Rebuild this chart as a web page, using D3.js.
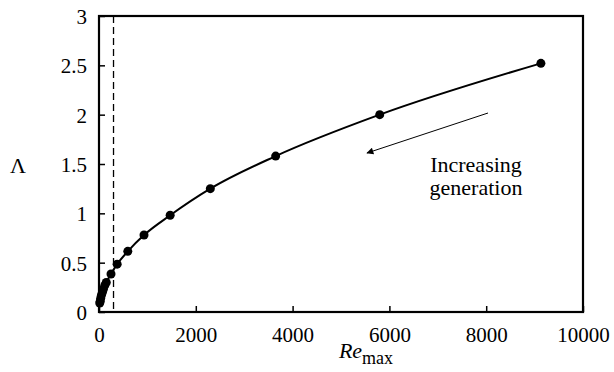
<!DOCTYPE html>
<html>
<head>
<meta charset="utf-8">
<script src="https://cdn.jsdelivr.net/npm/d3@7"></script>
<style>
  body { margin: 0; background: #fff; }
</style>
</head>
<body>
<svg width="614" height="372"></svg>
<script>
// Re_max and Lambda per generation
var reMax = [15, 25, 35, 50, 70, 90, 120, 150, 248, 375, 595, 930, 1470, 2300, 3650, 5800, 9130];
var lambda = [0.09, 0.11, 0.14, 0.17, 0.2, 0.23, 0.27, 0.3, 0.385, 0.485, 0.615, 0.78, 0.98, 1.25, 1.58, 2.0, 2.52];
var xTicks = [0, 2000, 4000, 6000, 8000, 10000];
var yTicks = [0, 0.5, 1, 1.5, 2, 2.5, 3];
var dashedRe = 300;
var noteLines = ["Increasing", "generation"];

var serif = "'Liberation Serif', 'DejaVu Serif', serif";

var svg = d3.select("svg"),
    margin = {left: 99, right: 31, top: 16, bottom: 60},
    width = +svg.attr("width") - margin.left - margin.right,
    height = +svg.attr("height") - margin.top - margin.bottom,
    g = svg.append("g").attr("transform", "translate(" + margin.left + "," + margin.top + ")");

var x = d3.scaleLinear().domain([0, 10000]).range([0, width]);
var y = d3.scaleLinear().domain([0, 3]).range([height, 0]);

// axes: ticks point into the plot
var xAxis = g.append("g")
    .attr("transform", "translate(0," + height + ")")
    .call(d3.axisBottom(x).tickValues(xTicks).tickSize(-6).tickPadding(12).tickFormat(d3.format("d")));
var yAxis = g.append("g")
    .call(d3.axisLeft(y).tickValues(yTicks).tickSize(-6).tickPadding(12).tickFormat(function(d) { return d; }));

[xAxis, yAxis].forEach(function(a) {
  a.attr("font-family", serif).attr("font-size", 21);
  a.select(".domain").remove();
  a.selectAll("line").attr("stroke", "#000").attr("stroke-width", 1.5);
  a.selectAll("text").attr("fill", "#000").attr("font-family", serif);
});
xAxis.selectAll("text").attr("dy", "0.85em");
yAxis.selectAll("text").attr("dy", "0.35em");

// frame
g.append("rect")
    .attr("width", width).attr("height", height)
    .attr("fill", "none").attr("stroke", "#000").attr("stroke-width", 2.2);

// dashed reference line
g.append("line")
    .attr("x1", x(dashedRe)).attr("x2", x(dashedRe))
    .attr("y1", 0).attr("y2", height)
    .attr("stroke", "#000").attr("stroke-width", 1.3)
    .attr("stroke-dasharray", "7,4");

var pts = reMax.map(function(d, i) { return [d, lambda[i]]; });

var line = d3.line()
    .x(function(d) { return x(d[0]); })
    .y(function(d) { return y(d[1]); })
    .curve(d3.curveMonotoneX);

g.append("path").datum(pts)
    .attr("d", line)
    .attr("fill", "none").attr("stroke", "#000").attr("stroke-width", 2);

g.selectAll("circle").data(pts)
  .enter().append("circle")
    .attr("cx", function(d) { return x(d[0]); })
    .attr("cy", function(d) { return y(d[1]); })
    .attr("r", 4.5)
    .attr("fill", "#000");

// arrow annotation
svg.append("defs").append("marker")
    .attr("id", "head")
    .attr("viewBox", "0 0 10 10")
    .attr("refX", 9).attr("refY", 5)
    .attr("markerWidth", 10).attr("markerHeight", 7)
    .attr("markerUnits", "userSpaceOnUse")
    .attr("orient", "auto")
  .append("path").attr("d", "M0,0L10,5L0,10z").attr("fill", "#000");

svg.append("line")
    .attr("x1", 488).attr("y1", 113)
    .attr("x2", 367).attr("y2", 153)
    .attr("stroke", "#000").attr("stroke-width", 1)
    .attr("marker-end", "url(#head)");

svg.append("g").selectAll("text").data(noteLines)
  .enter().append("text")
    .attr("x", 476)
    .attr("y", function(d, i) { return 172 + i * 23; })
    .attr("text-anchor", "middle")
    .attr("font-family", serif)
    .attr("font-size", 22)
    .text(function(d) { return d; });

// axis titles
svg.append("text")
    .attr("x", 18).attr("y", 173)
    .attr("text-anchor", "middle")
    .attr("font-family", serif)
    .attr("font-size", 22)
    .text("\u039B");

var xt = svg.append("text")
    .attr("x", 366).attr("y", 358)
    .attr("text-anchor", "middle")
    .attr("font-family", serif)
    .attr("font-size", 22);
xt.append("tspan").attr("font-style", "italic").text("Re");
xt.append("tspan").attr("dy", 6).attr("font-size", 18).text("max");
</script>
</body>
</html>
